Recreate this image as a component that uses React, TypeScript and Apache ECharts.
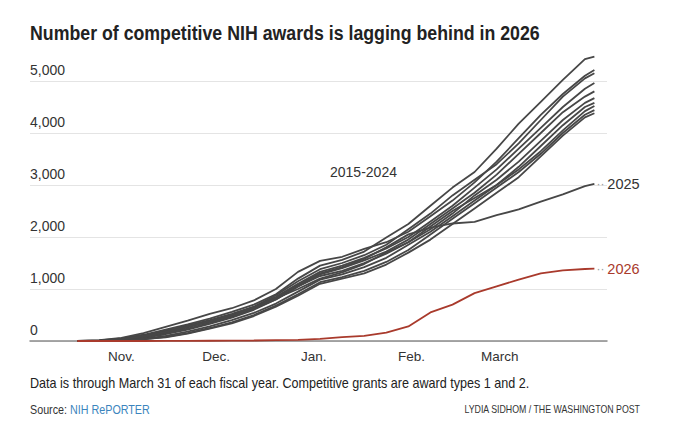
import { useEffect, useRef } from "react";
import * as echarts from "echarts";

// days since Oct. 1 of each fiscal year (weekly readings)
const days = [17, 24, 31, 38, 45, 52, 59, 66, 73, 80, 87, 94, 101, 108, 115, 122, 129, 136, 143, 150, 157, 164, 171, 178, 181];

const monthStarts = [31, 61, 92, 123, 151];
const monthLabels = ["Nov.", "Dec.", "Jan.", "Feb.", "March"];

// 2015-2024 (grey bundle)
const y2015 = [0, 10, 50, 120, 220, 320, 430, 560, 700, 900, 1200, 1450, 1560, 1720, 1990, 2250, 2600, 2950, 3250, 3700, 4180, 4600, 5020, 5420, 5470];
const y2016 = [0, 15, 60, 150, 270, 390, 520, 630, 780, 1000, 1330, 1540, 1620, 1770, 1900, 2100, 2400, 2700, 3050, 3450, 3900, 4350, 4750, 5100, 5210];
const y2017 = [0, 5, 40, 100, 200, 300, 400, 520, 660, 880, 1150, 1380, 1500, 1650, 1850, 2150, 2450, 2800, 3100, 3400, 3800, 4250, 4700, 5050, 5150];
const y2018 = [0, 8, 30, 80, 160, 260, 380, 500, 650, 850, 1100, 1330, 1450, 1600, 1780, 2000, 2300, 2600, 2950, 3300, 3700, 4100, 4500, 4850, 4960];
const y2019 = [0, 3, 20, 60, 130, 220, 330, 450, 600, 800, 1050, 1280, 1400, 1550, 1720, 1950, 2250, 2550, 2850, 3200, 3600, 4000, 4400, 4700, 4800];
const y2020 = [0, 2, 25, 70, 150, 240, 350, 470, 620, 820, 1000, 1200, 1320, 1480, 1700, 1900, 2150, 2450, 2800, 3100, 3450, 3850, 4250, 4580, 4670];
const y2021 = [0, 0, 15, 40, 100, 180, 280, 400, 540, 720, 950, 1180, 1280, 1420, 1600, 1850, 2100, 2400, 2700, 3000, 3350, 3750, 4150, 4500, 4580];
const y2022 = [0, 0, 10, 30, 80, 150, 250, 360, 500, 680, 900, 1130, 1230, 1350, 1520, 1750, 2050, 2350, 2650, 2950, 3250, 3600, 4000, 4350, 4440];
const y2023 = [0, 0, 12, 35, 70, 140, 240, 340, 480, 660, 870, 1100, 1200, 1300, 1470, 1700, 1950, 2250, 2550, 2850, 3150, 3550, 3950, 4300, 4380];
const y2024 = [0, 4, 35, 90, 180, 280, 370, 480, 620, 800, 1050, 1250, 1350, 1500, 1680, 1900, 2200, 2500, 2750, 3000, 3300, 3650, 4050, 4420, 4520];

const y2025 = [0, 5, 30, 90, 170, 270, 380, 500, 640, 830, 1080, 1300, 1420, 1580, 1800, 2050, 2180, 2260, 2290, 2420, 2530, 2680, 2820, 2980, 3020];
const y2026 = [0, 0, 0, 0, 2, 3, 5, 8, 10, 15, 20, 40, 75, 100, 160, 280, 550, 700, 920, 1050, 1180, 1300, 1360, 1385, 1390];

const pastYears = [y2015, y2016, y2017, y2018, y2019, y2020, y2021, y2022, y2023, y2024];

const FONT = "'Liberation Sans', Roboto, sans-serif";
const GREY = "#474747";
const RED = "#a93a2c";

const toPoints = (vals: number[]) => vals.map((v, i) => [days[i], v]);

export default function App() {
  const chartRef = useRef<HTMLDivElement | null>(null);

  useEffect(() => {
    document.body.style.margin = "0";
    if (!chartRef.current) return;
    const chart = echarts.init(chartRef.current, null, { renderer: "svg" });

    const past = pastYears.map((vals, i) => ({
      name: String(2015 + i),
      type: "line",
      data: toPoints(vals),
      showSymbol: false,
      clip: false,
      silent: true,
      lineStyle: { color: GREY, width: 1.8 },
      z: 2,
    }));

    const endLabel = (year: string, color: string) => ({
      show: true,
      distance: 2,
      formatter: `{d|··}{y|${year}}`,
      rich: {
        d: { color: "#999", fontSize: 12, fontFamily: FONT, padding: [0, 3, 0, 0] },
        y: { color, fontSize: 14.5, fontFamily: FONT },
      },
    });

    chart.setOption({
      animation: false,
      grid: { left: 30, right: 73, top: 81, bottom: 93 },
      xAxis: {
        type: "value",
        min: 2,
        max: 185,
        splitLine: { show: false },
        axisTick: { show: false },
        axisLine: { show: true, onZero: false, lineStyle: { color: "#8a8a8a", width: 1.5 } },
        axisLabel: {
          customValues: monthStarts,
          formatter: (v: number) => monthLabels[monthStarts.indexOf(v)] ?? "",
          color: "#333",
          fontSize: 13.5,
          fontFamily: FONT,
          margin: 8,
        },
      },
      yAxis: {
        type: "value",
        min: 0,
        max: 5000,
        interval: 1000,
        axisLine: { show: false },
        axisTick: { show: false },
        splitLine: { lineStyle: { color: "#e4e4e4", width: 1 } },
        axisLabel: {
          inside: true,
          align: "left",
          verticalAlign: "bottom",
          margin: 0,
          padding: [0, 0, 4, 0],
          formatter: (v: number) => v.toLocaleString("en-US"),
          color: "#333",
          fontSize: 14,
          fontFamily: FONT,
        },
      },
      series: [
        ...past,
        {
          name: "2025",
          type: "line",
          data: toPoints(y2025),
          showSymbol: false,
          clip: false,
          lineStyle: { color: GREY, width: 1.8 },
          z: 3,
          endLabel: endLabel("2025", "#333"),
        },
        {
          name: "2026",
          type: "line",
          data: toPoints(y2026),
          showSymbol: false,
          clip: false,
          lineStyle: { color: RED, width: 1.8 },
          z: 4,
          endLabel: endLabel("2026", RED),
        },
      ],
      graphic: [
        {
          type: "text",
          x: 30,
          y: 22,
          scaleX: 0.845,
          style: {
            text: "Number of competitive NIH awards is lagging behind in 2026",
            fill: "#222",
            fontSize: 21,
            fontWeight: "bold",
            fontFamily: FONT,
            verticalAlign: "top",
          },
        },
        {
          type: "text",
          x: 330,
          y: 165,
          style: { text: "2015-2024", fill: "#333", fontSize: 14, fontFamily: FONT, verticalAlign: "top" },
        },
        {
          type: "text",
          x: 30,
          y: 376,
          scaleX: 0.9,
          style: {
            text: "Data is through March 31 of each fiscal year. Competitive grants are award types 1 and 2.",
            fill: "#222",
            fontSize: 14,
            fontFamily: FONT,
            verticalAlign: "top",
          },
        },
        {
          type: "text",
          x: 30,
          y: 403,
          scaleX: 0.86,
          style: {
            text: "{a|Source: }{b|NIH RePORTER}",
            verticalAlign: "top",
            rich: {
              a: { fill: "#333", fontSize: 12.5, fontFamily: FONT },
              b: { fill: "#3b84bd", fontSize: 12.5, fontFamily: FONT },
            },
          },
        },
        {
          type: "text",
          x: 640,
          y: 404,
          scaleX: 0.8,
          style: {
            text: "LYDIA SIDHOM / THE WASHINGTON POST",
            fill: "#333",
            fontSize: 11,
            fontFamily: FONT,
            align: "right",
            verticalAlign: "top",
          },
        },
      ],
    });

    return () => chart.dispose();
  }, []);

  return <div ref={chartRef} style={{ width: 680, height: 434 }} />;
}
